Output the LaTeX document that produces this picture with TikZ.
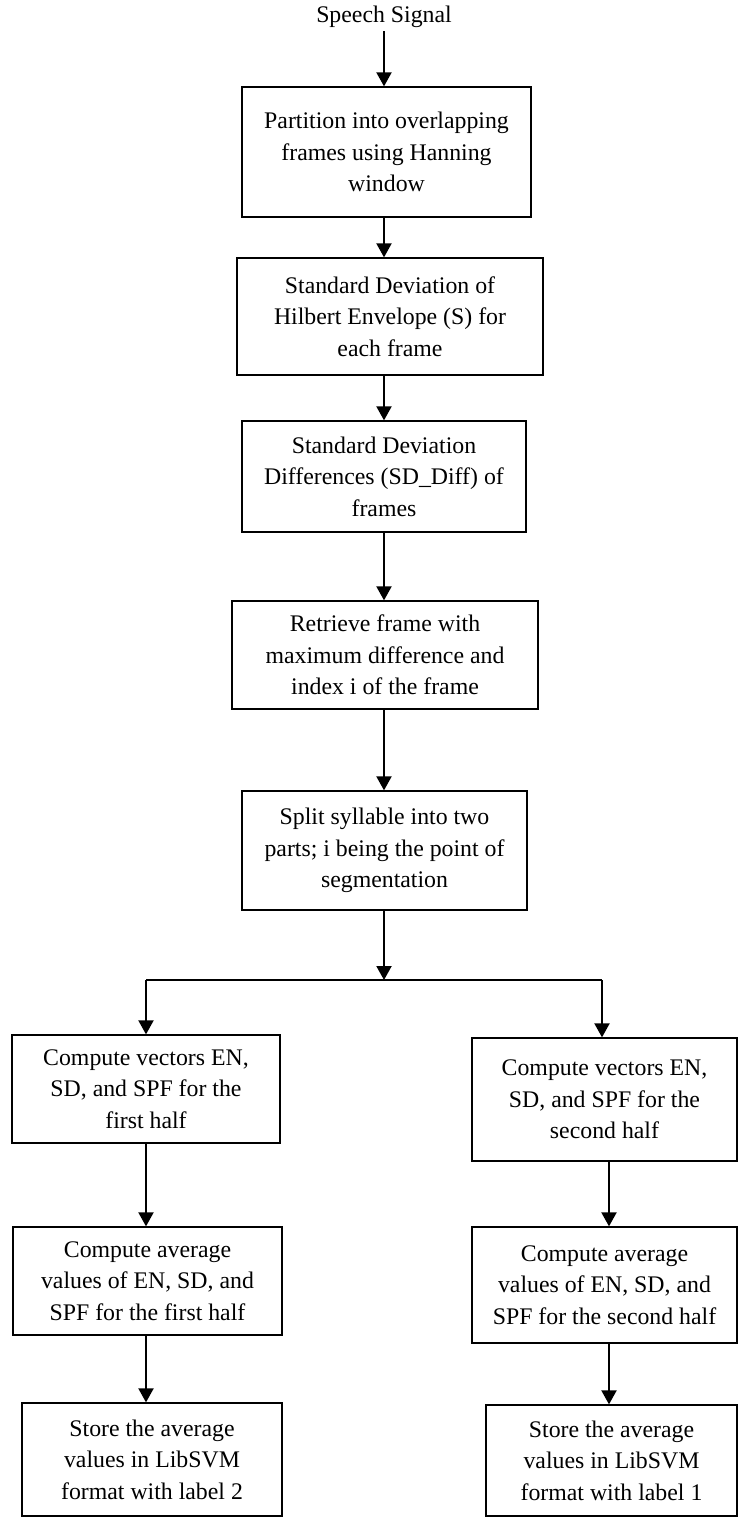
\documentclass[tikz,border=0pt]{standalone}
\usepackage{fontspec}
\setmainfont{Liberation Serif}
\usetikzlibrary{arrows.meta}
\begin{document}
\begin{tikzpicture}[x=1pt,y=-1pt,
  every node/.style={font=\fontsize{23.8}{31.5}\selectfont},
  stepbox/.style={draw,line width=1.3pt,align=center,inner sep=0pt},
  arr/.style={line width=2pt,-{Triangle[length=14pt,width=15pt]}},
  conn/.style={line width=2pt}]
\useasboundingbox (0,0) rectangle (738,1517);
\node[inner sep=0pt,anchor=base] (sig) at (384,23) {Speech Signal};
\node[stepbox,minimum width=289pt,minimum height=130pt] (b1) at (386.5,152)
  {Partition into overlapping\\frames using Hanning\\window};
\node[stepbox,minimum width=306pt,minimum height=117pt] (b2) at (390,316.5)
  {Standard Deviation of\\Hilbert Envelope (S) for\\each frame};
\node[stepbox,minimum width=284pt,minimum height=111pt] (b3) at (384,476.5)
  {Standard Deviation\\Differences (SD\_Diff) of\\frames};
\node[stepbox,minimum width=306pt,minimum height=108pt] (b4) at (385,655)
  {Retrieve frame with\\maximum difference and\\index i of the frame};
\node[stepbox,minimum width=285pt,minimum height=119pt] (b5) at (384.5,850.5)
  {Split syllable into two\\parts; i being the point of\\segmentation};
\node[stepbox,minimum width=268pt,minimum height=108pt] (b6l) at (146,1089)
  {Compute vectors EN,\\SD, and SPF for the\\first half};
\node[stepbox,minimum width=265pt,minimum height=123pt] (b6r) at (604.5,1099.5)
  {Compute vectors EN,\\SD, and SPF for the\\second half};
\node[stepbox,minimum width=269pt,minimum height=108pt] (b7l) at (147.5,1281)
  {Compute average\\values of EN, SD, and\\SPF for the first half};
\node[stepbox,minimum width=265pt,minimum height=116pt] (b7r) at (604.5,1285)
  {Compute average\\values of EN, SD, and\\SPF for the second half};
\node[stepbox,minimum width=260pt,minimum height=113pt] (b8l) at (152,1459.5)
  {Store the average\\values in LibSVM\\format with label 2};
\node[stepbox,minimum width=251pt,minimum height=111pt] (b8r) at (611.5,1460.5)
  {Store the average\\values in LibSVM\\format with label 1};
\coordinate (jn) at (384,980);
\coordinate (jl) at (146,980);
\coordinate (jr) at (602,980);
\coordinate (rx) at (609,980);
\draw[arr,shorten <=3pt] (sig.south) -- (sig.south |- b1.north);
\draw[arr] (sig.south |- b1.south) -- (sig.south |- b2.north);
\draw[arr] (sig.south |- b2.south) -- (sig.south |- b3.north);
\draw[arr] (sig.south |- b3.south) -- (sig.south |- b4.north);
\draw[arr] (sig.south |- b4.south) -- (sig.south |- b5.north);
\draw[arr] (sig.south |- b5.south) -- (jn);
\draw[conn] (jl) -- (jr);
\draw[arr] (jl) -- (jl |- b6l.north);
\draw[arr] (jr) -- (jr |- b6r.north);
\draw[arr] (jl |- b6l.south) -- (jl |- b7l.north);
\draw[arr] (jl |- b7l.south) -- (jl |- b8l.north);
\draw[arr] (rx |- b6r.south) -- (rx |- b7r.north);
\draw[arr] (rx |- b7r.south) -- (rx |- b8r.north);
\end{tikzpicture}
\end{document}
